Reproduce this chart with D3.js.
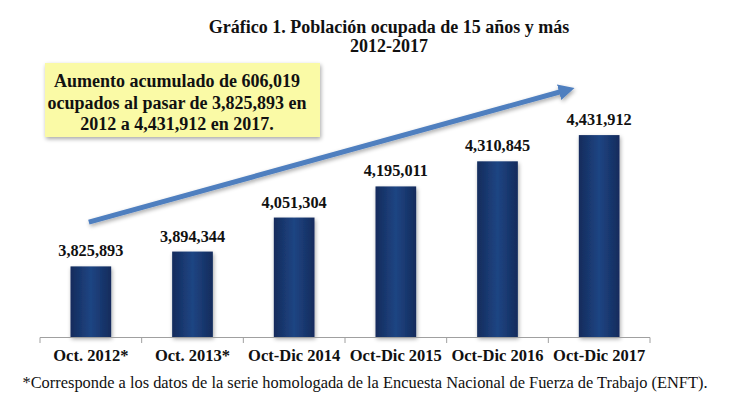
<!DOCTYPE html>
<html><head><meta charset="utf-8">
<script src="https://cdn.jsdelivr.net/npm/d3@7"></script>
<style>html,body{margin:0;padding:0;background:#fff;}svg{display:block;}</style>
</head><body>
<script>
const categories = ["Oct. 2012*", "Oct. 2013*", "Oct-Dic 2014", "Oct-Dic 2015", "Oct-Dic 2016", "Oct-Dic 2017"];
const values = [3825893, 3894344, 4051304, 4195011, 4310845, 4431912];
const titleLines = ["Gráfico 1. Población ocupada de 15 años y más", "2012-2017"];
const boxLines = ["Aumento acumulado de 606,019", "ocupados al pasar de 3,825,893 en", "2012 a 4,431,912 en 2017."];
const footnote = "*Corresponde a los datos de la serie homologada de la Encuesta Nacional de Fuerza de Trabajo (ENFT).";
const arrowValues = [4030000, 4650000];

const W = 730, H = 400;
const FF = '"Liberation Serif"';
const svg = d3.select("body").append("svg").attr("width", W).attr("height", H);
const defs = svg.append("defs");

const g1 = defs.append("linearGradient").attr("id", "barGrad").attr("x1", "0").attr("x2", "1").attr("y1", "0").attr("y2", "0");
g1.append("stop").attr("offset", "0%").attr("stop-color", "#132b5c");
g1.append("stop").attr("offset", "50%").attr("stop-color", "#1f4583");
g1.append("stop").attr("offset", "100%").attr("stop-color", "#132b5c");

const sh = defs.append("filter").attr("id", "shadow").attr("x", "-30%").attr("y", "-30%").attr("width", "160%").attr("height", "160%");
sh.append("feGaussianBlur").attr("in", "SourceAlpha").attr("stdDeviation", 2);
sh.append("feOffset").attr("dx", 1).attr("dy", 2).attr("result", "ob");
sh.append("feComponentTransfer").append("feFuncA").attr("type", "linear").attr("slope", 0.35);
const mg = sh.append("feMerge"); mg.append("feMergeNode"); mg.append("feMergeNode").attr("in", "SourceGraphic");

const x = d3.scaleBand().domain(categories).range([40, 650]).paddingInner(0.6).paddingOuter(0.3);
const y = d3.scaleLinear().domain([3500000, 4700000]).range([337, 77]);

function styleText(sel, size, bold) {
  return sel.style("font-family", FF).style("font-size", size + "px")
    .style("font-weight", bold ? "bold" : "normal").attr("fill", "#111");
}

// title
styleText(svg.append("g").selectAll("text").data(titleLines).join("text")
  .attr("x", 389).attr("y", (d, i) => 33 + i * 19)
  .attr("text-anchor", "middle").text(d => d), 18, true);

// bars
svg.append("g").selectAll("rect").data(values).join("rect")
  .attr("x", (d, i) => x(categories[i])).attr("width", x.bandwidth())
  .attr("y", d => y(d)).attr("height", d => y.range()[0] - y(d))
  .attr("fill", "url(#barGrad)").attr("filter", "url(#shadow)");

// value labels
const fmt = d3.format(",");
styleText(svg.append("g").selectAll("text").data(values).join("text")
  .attr("x", (d, i) => x(categories[i]) + x.bandwidth() / 2).attr("y", d => y(d) - 10)
  .attr("text-anchor", "middle").text(d => fmt(d)), 16.3, true);

// axis
const boundaries = d3.range(categories.length + 1).map(i => 40 + i * (610 / categories.length));
const ax = svg.append("g");
ax.append("line").attr("x1", 40).attr("x2", 650).attr("y1", 337.5).attr("y2", 337.5).attr("stroke", "#a0a0a0").attr("stroke-width", 1);
ax.selectAll("line.t").data(boundaries).join("line").attr("class", "t")
  .attr("x1", d => d).attr("x2", d => d).attr("y1", 337.5).attr("y2", 343).attr("stroke", "#a0a0a0");
styleText(ax.selectAll("text").data(categories).join("text")
  .attr("x", d => x(d) + x.bandwidth() / 2).attr("y", 360.5)
  .attr("text-anchor", "middle").text(d => d), 16.5, true);

// footnote
styleText(svg.append("text").attr("x", 365).attr("y", 388).attr("text-anchor", "middle").text(footnote), 16.4, false);

// arrow
const ar = defs.append("marker").attr("id", "ah").attr("viewBox", "0 0 10 10").attr("refX", 5).attr("refY", 5)
  .attr("markerWidth", 3.2).attr("markerHeight", 3.2).attr("orient", "auto");
ar.append("path").attr("d", "M0,0 L10,5 L0,10 Z").attr("fill", "#4f7fbf");
const ax0 = x(categories[0]) + x.bandwidth() / 2 - 2;
const ax1 = x(categories[5]) - 2;
svg.append("line").attr("x1", ax0).attr("y1", y(arrowValues[0])).attr("x2", ax1 - 10).attr("y2", y(arrowValues[1]) + 2.2)
  .attr("stroke", "#4f7fbf").attr("stroke-width", 5).attr("marker-end", "url(#ah)").attr("filter", "url(#shadow)");

// box
const bx = svg.append("g");
bx.append("rect").attr("x", 45).attr("y", 63).attr("width", 275).attr("height", 74)
  .attr("fill", "#fafaa6").attr("filter", "url(#shadow)");
styleText(bx.selectAll("text").data(boxLines).join("text")
  .attr("x", 177).attr("y", (d, i) => 87 + i * 21.5)
  .attr("text-anchor", "middle").text(d => d), 18, true);
</script>
</body></html>
